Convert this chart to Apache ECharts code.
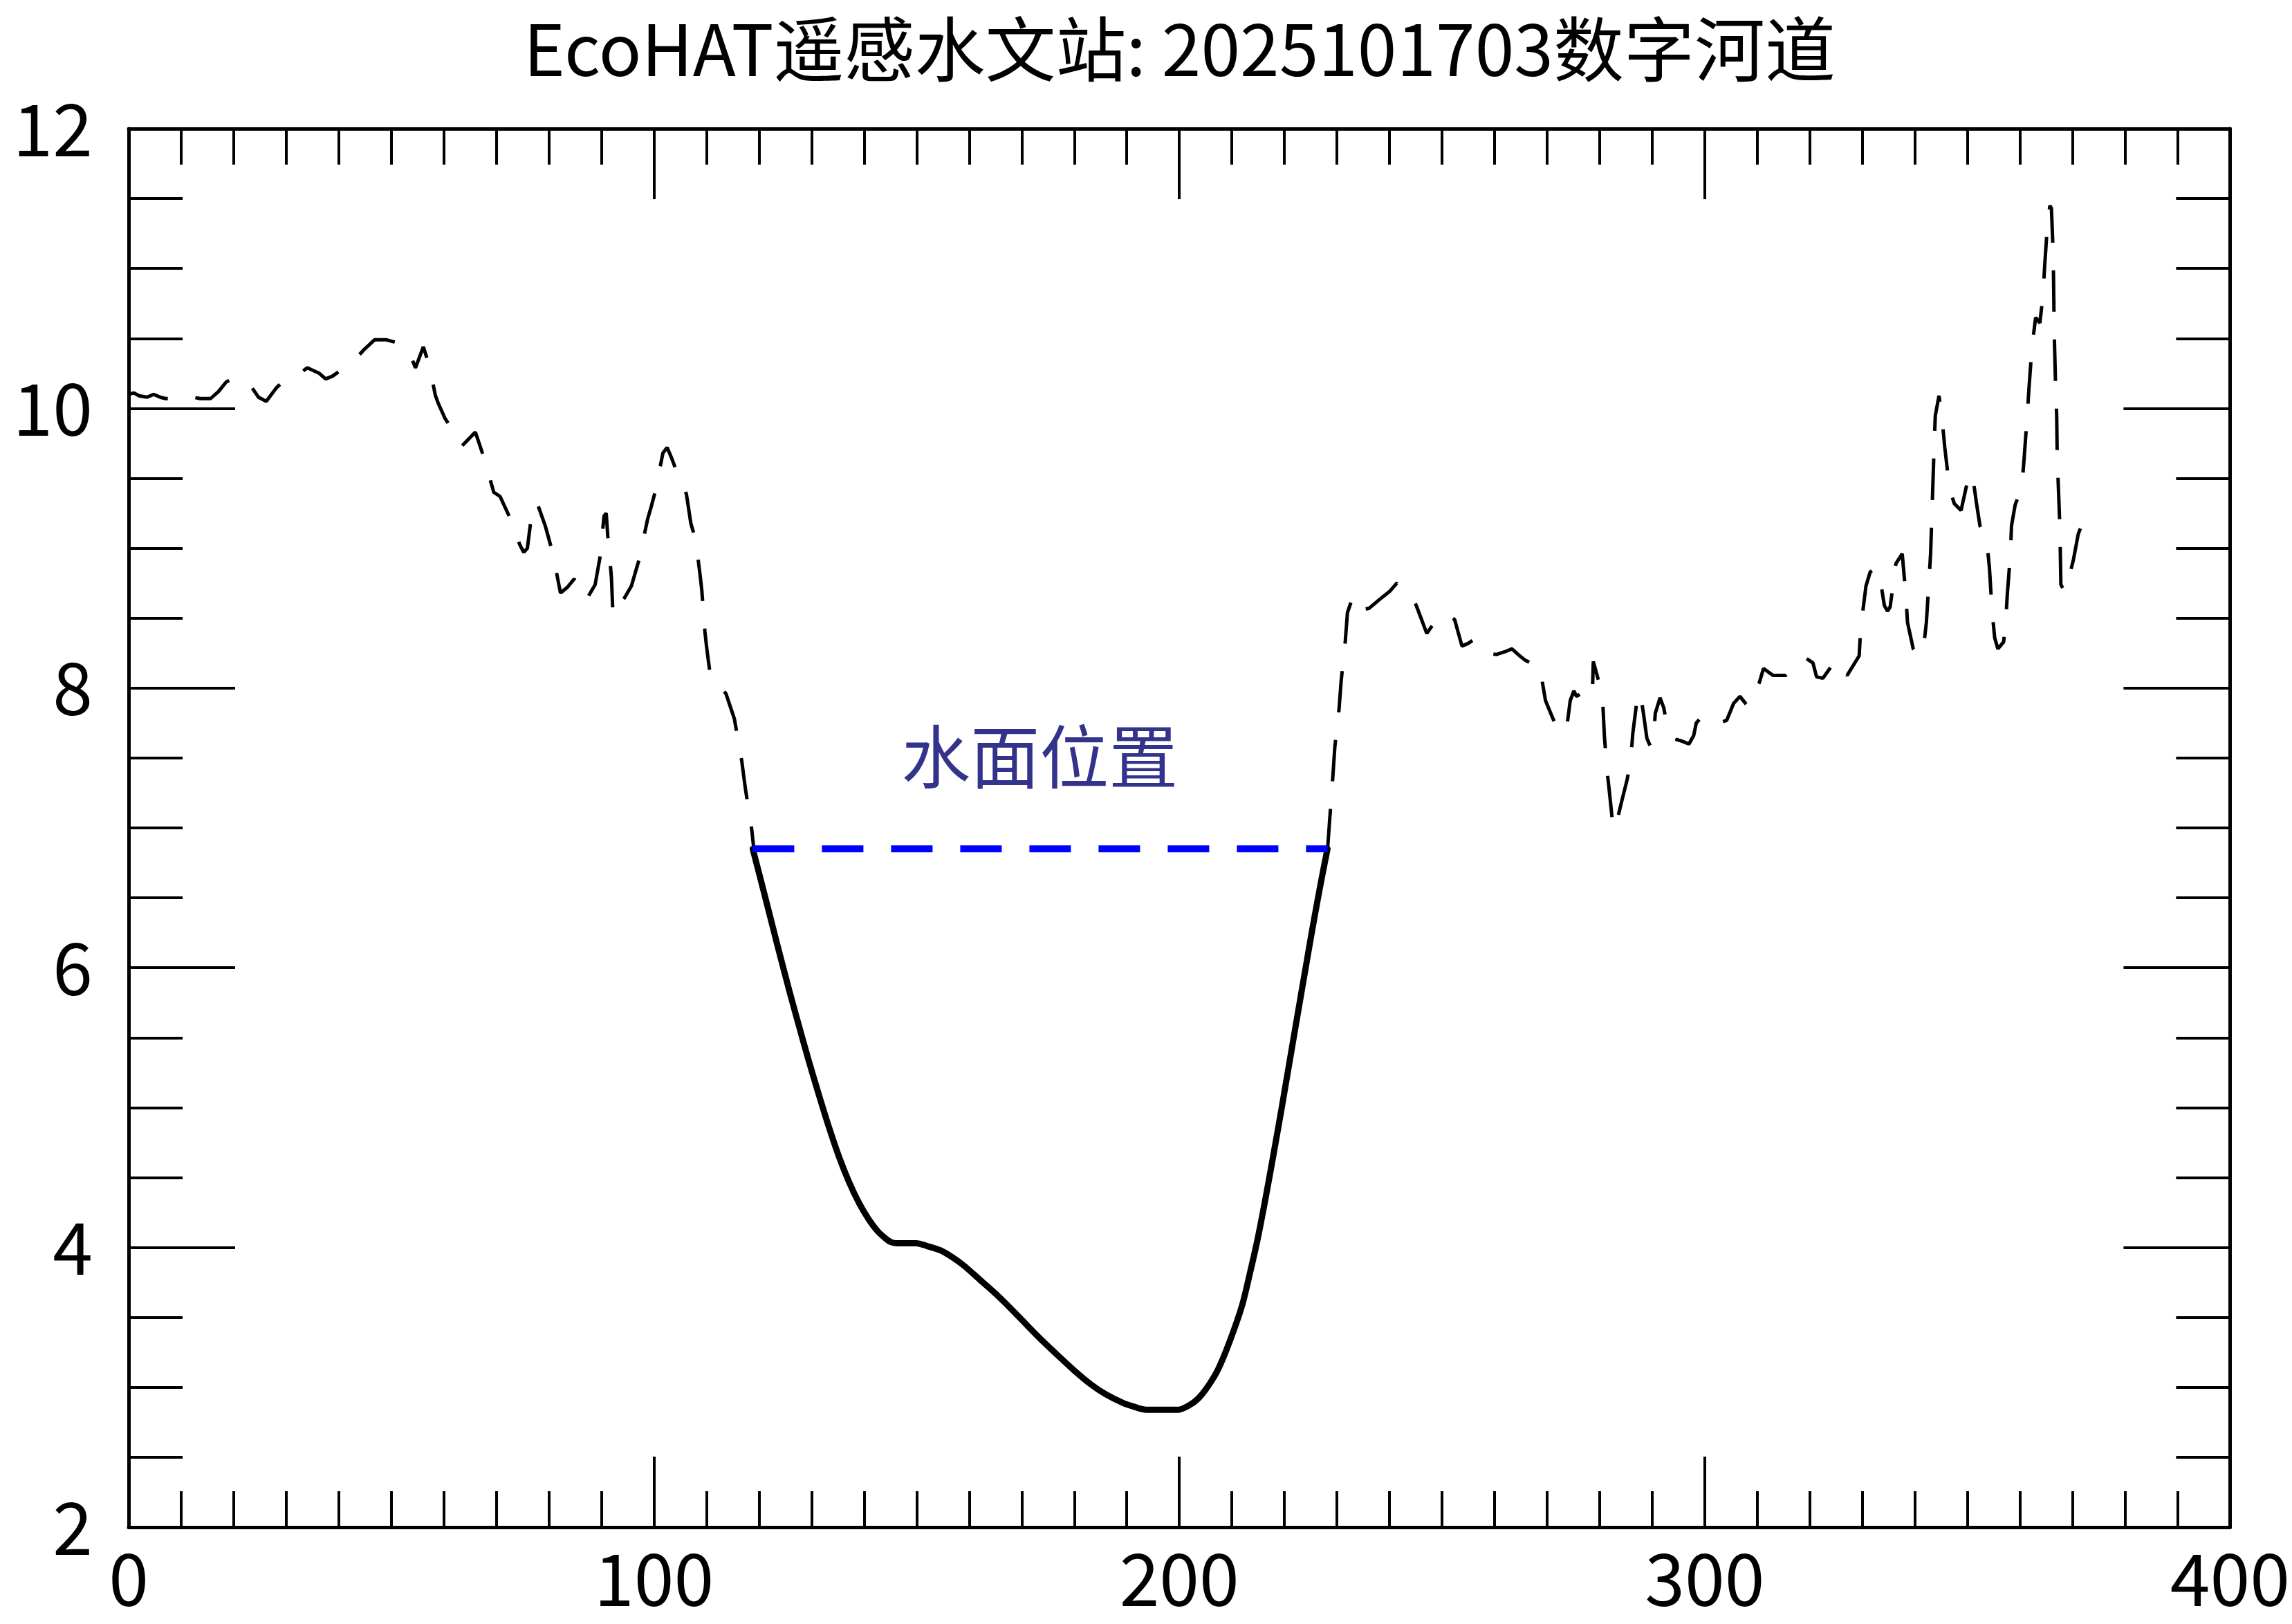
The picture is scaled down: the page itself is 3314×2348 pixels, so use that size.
<!DOCTYPE html>
<html>
<head>
<meta charset="utf-8">
<script src="https://cdn.jsdelivr.net/npm/echarts@6/dist/echarts.min.js"></script>
<style>
html,body{margin:0;padding:0;background:#fff;}
#chart{width:3314px;height:2348px;}
</style>
</head>
<body>
<div id="chart"></div>
<script>
// ---------------- data ----------------
const titleText = 'EcoHAT遥感水文站: 2025101703数字河道';
const waterLabel = '水面位置';

// terrain, left bank (dashed)
const leftBankX = [0,1,2,3.5,4.8,6,7,9.5,12.3,13.6,15.6,17.1,18.6,20.5,22.9,24.7,26.2,28.2,30.2,32.3,34.0,36.3,37.5,38.8,41,42.9,44.8,46.8,49.1,51,53.1,54.6,56.1,57.2,58.4,59.0,60.2,61.4,63.4,66.0,67.7,69.5,70.7,72.8,74.4,75.2,75.9,76.6,77.7,79.3,80.7,82.2,83.5,84.8,86.2,87.1,88.8,89.7,90.5,90.9,91.2,91.9,92.2,93.2,94.3,95.7,96.4,97.1,98.8,99.5,100.2,101.7,102.5,103.3,104.2,105.2,106.2,106.6,107.0,108.0,108.5,108.8,109.1,109.7,110.0,110.3,110.8,112.3,113.7,114.5,115.3,116.7,117.4,118.6,119.0];
const leftBankY = [10.10,10.11,10.09,10.08,10.10,10.08,10.07,10.07,10.08,10.07,10.07,10.12,10.19,10.22,10.18,10.08,10.05,10.15,10.22,10.24,10.29,10.25,10.21,10.23,10.29,10.34,10.42,10.49,10.49,10.47,10.43,10.29,10.44,10.31,10.09,10.03,9.93,9.86,9.73,9.83,9.64,9.40,9.37,9.20,9.03,8.97,9.00,9.21,9.33,9.16,8.97,8.68,8.72,8.78,8.69,8.63,8.74,8.93,9.23,9.25,9.09,8.79,8.52,8.59,8.64,8.73,8.82,8.91,9.21,9.30,9.40,9.68,9.72,9.65,9.56,9.52,9.38,9.28,9.18,9.05,8.89,8.80,8.70,8.40,8.30,8.21,8.07,8.03,7.96,7.87,7.78,7.48,7.28,6.99,6.85];

// terrain, right bank (dashed)
const rightBankX = [228.2,228.6,229.1,229.6,230.4,230.8,231.6,232.0,233.1,234.1,234.8,236.1,238,240.0,241.4,242.9,244.1,245.1,246.2,247.1,248.2,249.2,250.9,252.4,253.8,255.0,256.2,257.7,258.7,260.3,262,263.3,264.8,265.8,266.8,267.5,268.3,268.8,269.2,269.7,270.8,271.8,272.8,273.7,274.1,274.4,275.1,275.6,276.4,277.9,278.6,278.8,279.6,280.5,280.7,280.9,281.3,281.5,281.8,282.6,283.3,284.2,285.2,285.9,286.3,287.3,287.8,288.3,289.0,289.7,290.2,290.6,291.5,292.2,292.7,294,295.7,297.0,297.9,298.4,299.3,299.9,302,304.2,305.5,306.7,308.2,309.3,310.4,311.2,313.0,315.4,317.6,319.0,320.6,321.3,322.5,324,325.0,327.1,329.4,329.7,330.7,331.5,332.2,333.1,334.2,334.8,335.3,336.4,337.6,338.3,338.6,339.7,340.7,341.6,342.2,342.7,343.0,343.3,343.7,343.9,344.6,345.2,345.7,346.6,347.5,348.8,349.8,350.5,351.0,351.7,352.4,353.3,353.7,354.2,354.7,355.2,355.8,356.9,357.3,357.6,358.2,358.4,359.1,359.7,360.4,360.8,361.4,361.7,362.3,363.0,363.8,364.4,364.7,365.2,365.7,366.0,366.3,366.4,366.5,366.6,366.8,367.0,367.1,367.3,367.6,367.7,367.8,368.5,369.4,370.2,371.1,371.8,372.9];
const rightBankY = [6.84,7.05,7.30,7.58,7.85,8.05,8.34,8.54,8.66,8.61,8.56,8.57,8.63,8.69,8.75,8.70,8.67,8.59,8.48,8.39,8.45,8.51,8.53,8.49,8.30,8.32,8.35,8.30,8.25,8.24,8.26,8.28,8.23,8.20,8.18,8.14,8.15,8.11,8.02,7.91,7.81,7.72,7.68,7.71,7.82,7.91,7.98,7.94,7.96,7.95,7.93,8.19,8.08,7.96,7.82,7.66,7.47,7.38,7.28,6.99,7.05,7.19,7.34,7.47,7.67,7.97,7.95,7.83,7.64,7.58,7.62,7.82,7.93,7.86,7.76,7.64,7.62,7.60,7.66,7.75,7.79,7.76,7.74,7.77,7.89,7.94,7.87,7.95,8.04,8.14,8.09,8.09,8.17,8.22,8.18,8.08,8.07,8.15,8.20,8.09,8.23,8.43,8.73,8.83,8.85,8.85,8.59,8.55,8.58,8.89,8.96,8.66,8.47,8.28,8.23,8.27,8.47,8.77,8.96,9.30,9.76,9.95,10.09,9.92,9.72,9.43,9.32,9.27,9.44,9.54,9.52,9.33,9.16,9.10,9.05,8.86,8.55,8.36,8.28,8.33,8.47,8.67,8.96,9.16,9.31,9.37,9.45,9.64,9.95,10.13,10.44,10.65,10.61,10.81,11.01,11.29,11.45,11.43,11.14,10.94,10.64,10.44,10.15,9.95,9.66,9.46,9.16,8.96,8.74,8.69,8.80,8.92,9.10,9.17,9.20];

// channel bed (solid)
const bedX = [118.8,121.2,123.5,125.8,127.7,129.5,131.4,133.3,135.2,137.1,139.0,140.9,142.5,143.9,145.0,146.2,148.0,149.9,152.0,154.5,156.8,159.0,162.0,165.0,168.0,171.1,174.0,177.1,180.0,183.2,186.0,189.2,191.5,193.7,196.5,199.8,201.8,203.6,205.5,207.4,209.6,211.9,213.4,214.9,216.4,217.9,219.4,220.9,222.4,224.0,225.1,226.2,227.2,228.2];
const bedY = [6.85,6.50,6.16,5.83,5.57,5.33,5.09,4.86,4.65,4.47,4.32,4.20,4.12,4.07,4.04,4.03,4.03,4.03,4.01,3.98,3.93,3.87,3.77,3.67,3.56,3.44,3.33,3.22,3.12,3.02,2.95,2.89,2.86,2.84,2.84,2.84,2.87,2.92,3.01,3.13,3.33,3.58,3.81,4.06,4.35,4.66,4.98,5.31,5.64,5.99,6.23,6.46,6.66,6.85];

// water surface
const waterLevel = 6.85;
const waterX = [118.8, 228.2];
const waterLabelPos = [173.4, 7.51];

// axes
const xMin = 0, xMax = 400, xStep = 100;
const yMin = 2, yMax = 12, yStep = 2;

// ---------------- chart ----------------
const zip = (xs, ys) => xs.map((x, i) => [x, ys[i]]);
const FONT = '"Noto Sans CJK SC", "Noto Sans", sans-serif';

const chart = echarts.init(document.getElementById('chart'), null, {renderer: 'canvas'});

const gridLeft = 186, gridRight = 89;
const plotCenterX = gridLeft + (3314 - gridLeft - gridRight) / 2;

const lineW = 5, tickW = 4;
function xAxisDef(pos, showLabel) {
  return {
    type: 'value', position: pos, min: xMin, max: xMax, interval: xStep,
    axisLine: {show: true, onZero: false, lineStyle: {color: '#000', width: lineW}},
    axisTick: {show: true, inside: true, length: 102, lineStyle: {color: '#000', width: tickW}},
    minorTick: {show: true, splitNumber: 10, length: 52, lineStyle: {color: '#000', width: tickW}},
    axisLabel: {show: showLabel, color: '#000', fontSize: 104, fontFamily: FONT, margin: 22,
      showMinLabel: true, showMaxLabel: true},
    splitLine: {show: false}, minorSplitLine: {show: false}
  };
}
function yAxisDef(pos, showLabel) {
  return {
    type: 'value', position: pos, min: yMin, max: yMax, interval: yStep,
    axisLine: {show: true, onZero: false, lineStyle: {color: '#000', width: lineW}},
    axisTick: {show: true, inside: true, length: 154, lineStyle: {color: '#000', width: tickW}},
    minorTick: {show: true, splitNumber: 4, length: 78, lineStyle: {color: '#000', width: tickW}},
    axisLabel: {show: showLabel, color: '#000', fontSize: 104, fontFamily: FONT, margin: 52,
      showMinLabel: true, showMaxLabel: true},
    splitLine: {show: false}, minorSplitLine: {show: false}
  };
}

const option = {
  animation: false,
  backgroundColor: '#fff',
  title: {
    text: titleText, left: plotCenterX, textAlign: 'center', top: 20, padding: 0,
    textStyle: {fontSize: 102, fontWeight: 'normal', color: '#000', fontFamily: FONT}
  },
  grid: {left: gridLeft, right: gridRight, top: 186, bottom: 140, containLabel: false},
  xAxis: [xAxisDef('bottom', true), xAxisDef('top', false)],
  yAxis: [yAxisDef('left', true), yAxisDef('right', false)],
  series: [
    {
      type: 'line', name: 'leftBank', data: zip(leftBankX, leftBankY),
      showSymbol: false, smooth: false, z: 2,
      lineStyle: {color: '#000', width: 5, type: [60, 40]}
    },
    {
      type: 'line', name: 'rightBank', data: zip(rightBankX, rightBankY),
      showSymbol: false, smooth: false, z: 2,
      lineStyle: {color: '#000', width: 5, type: [60, 40]}
    },
    {
      type: 'line', name: 'bed', data: zip(bedX, bedY),
      showSymbol: false, smooth: 0.3, z: 3,
      lineStyle: {color: '#000', width: 9, cap: 'round', join: 'round'}
    },
    {
      type: 'line', name: 'water', data: waterX.map(x => [x, waterLevel]),
      showSymbol: false, z: 4,
      lineStyle: {color: '#0000ff', width: 10, type: [60, 40]}
    },
    {
      type: 'scatter', name: 'label', data: [waterLabelPos],
      symbolSize: 0, z: 5,
      label: {show: true, position: 'inside', formatter: waterLabel,
        fontSize: 100, color: '#00006e', fontFamily: FONT}
    }
  ]
};
chart.setOption(option);
</script>
</body>
</html>
